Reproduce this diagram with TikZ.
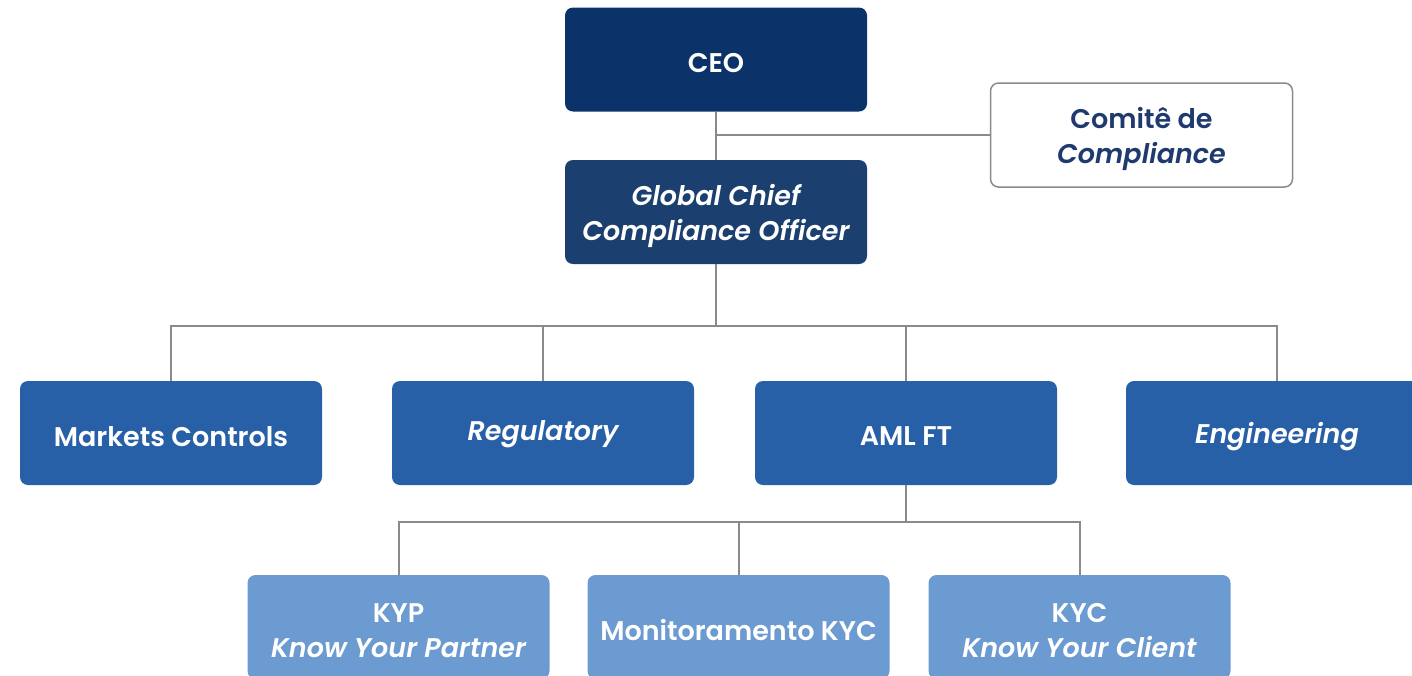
\documentclass[tikz,border=0pt]{standalone}
\usepackage{fontspec}
\setmainfont{Poppins}[BoldFont={Poppins SemiBold}, BoldItalicFont={Poppins SemiBold Italic}]
\usetikzlibrary{calc}
\definecolor{ceoblue}{HTML}{0C3369}
\definecolor{gccoblue}{HTML}{1B3F6E}
\definecolor{midblue}{HTML}{2860A8}
\definecolor{lightblue}{HTML}{6B9BD0}
\definecolor{navytext}{HTML}{1F3A6E}
\definecolor{linegray}{HTML}{8A8A8A}
\newcommand{\dn}[1]{\raisebox{-3.5pt}[\height][\depth]{#1}}
\begin{document}
\begin{tikzpicture}[x=1pt,y=-1pt,
  box/.style={rectangle, rounded corners=8pt, minimum width=302pt, minimum height=104pt,
    inner sep=0pt, align=center, font=\fontsize{27}{35}\selectfont\bfseries, text=white},
  link/.style={draw=linegray, line width=2pt}]
\useasboundingbox (0,0) rectangle (1412,675);
\clip (0,0) rectangle (1412,675);

\node[box, fill=ceoblue] (ceo) at (716,59.5) {\dn{CEO}};
\node[box, fill=gccoblue] (gcco) at (716,212) {\dn{\itshape Global Chief}\\\dn{\itshape Compliance Officer}};
\node[box, fill=white, draw=linegray, line width=1.5pt, text=navytext] (comite) at (1141.5,135) {\dn{Comitê de}\\\dn{\itshape Compliance}};

\node[box, fill=midblue] (markets) at (171,433) {\dn{Markets Controls}};
\node[box, fill=midblue] (reg) at (543,433) {\raisebox{-1pt}[\height][\depth]{\itshape Regulatory}};
\node[box, fill=midblue] (aml) at (906,433) {\dn{AML FT}};
\node[box, fill=midblue] (eng) at (1277,433) {\dn{\itshape Engineering}};

\node[box, fill=lightblue] (kyp) at (398.5,627) {\dn{KYP}\\\dn{\itshape Know Your Partner}};
\node[box, fill=lightblue] (mon) at (738.5,627) {\dn{Monitoramento KYC}};
\node[box, fill=lightblue] (kyc) at (1079.5,627) {\dn{KYC}\\\dn{\itshape Know Your Client}};

\coordinate (b1) at (ceo.south |- comite.west);
\coordinate (hub) at ($(gcco.south)+(0,62)$);
\coordinate (hub2) at ($(aml.south)+(0,37)$);

\draw[link] (ceo.south) -- (gcco.north);
\draw[link] (b1) -- (comite.west);
\draw[link] (gcco.south) -- (hub);
\draw[link] (markets.north) |- (hub) -| (eng.north);
\draw[link] (reg.north) -- (reg.north |- hub);
\draw[link] (aml.north) -- (aml.north |- hub);
\draw[link] (aml.south) -- (hub2);
\draw[link] (kyp.north) |- (hub2) -| (kyc.north);
\draw[link] (mon.north) -- (mon.north |- hub2);
\end{tikzpicture}
\end{document}
